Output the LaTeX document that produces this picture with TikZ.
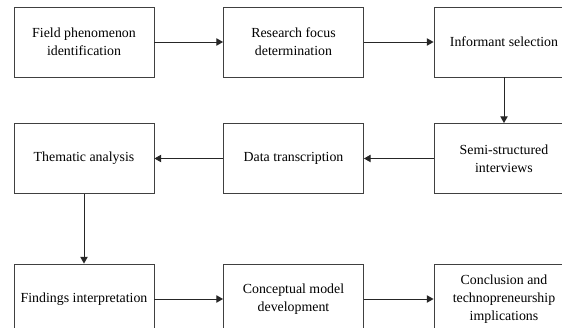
\documentclass[tikz,border=0pt]{standalone}
\usepackage{fontspec}
\setmainfont{Liberation Serif}
\usetikzlibrary{arrows.meta}
\begin{document}
\begin{tikzpicture}[x=0.75pt, y=-0.75pt,
    stagebox/.style={draw=black!75, line width=0.7pt, minimum width=105pt,
      minimum height=52.5pt, inner sep=2pt, align=center,
      font=\fontsize{10.4}{13.5}\selectfont},
    flow/.style={draw=black!85, -{Triangle[length=5pt, width=5.5pt]}, line width=0.7pt}]
    \clip (0,0) rectangle (562,328);

    % First row
    \node[stagebox] (field) at (84,42) {Field phenomenon\\identification};
    \node[stagebox] (focus) at (293.5,42) {Research focus\\determination};
    \node[stagebox] (informant) at (504,42) {Informant selection};

    % Second row
    \node[stagebox] (interview) at (504,158.5) {Semi-structured\\interviews};
    \node[stagebox] (transcript) at (293.5,158.5) {Data transcription};
    \node[stagebox] (thematic) at (84,158.5) {Thematic analysis};

    % Third row
    \node[stagebox] (findings) at (84,299) {Findings interpretation};
    \node[stagebox] (model) at (293.5,299) {Conceptual model\\development};
    \node[stagebox] (conclusion) at (504,299) {Conclusion and\\technopreneurship\\implications};

    % Connectors
    \draw[flow] (field) -- (focus);
    \draw[flow] (focus) -- (informant);
    \draw[flow] (informant) -- (interview);
    \draw[flow] (interview) -- (transcript);
    \draw[flow] (transcript) -- (thematic);
    \draw[flow] (thematic) -- (findings);
    \draw[flow] (findings) -- (model);
    \draw[flow] (model) -- (conclusion);
\end{tikzpicture}
\end{document}
